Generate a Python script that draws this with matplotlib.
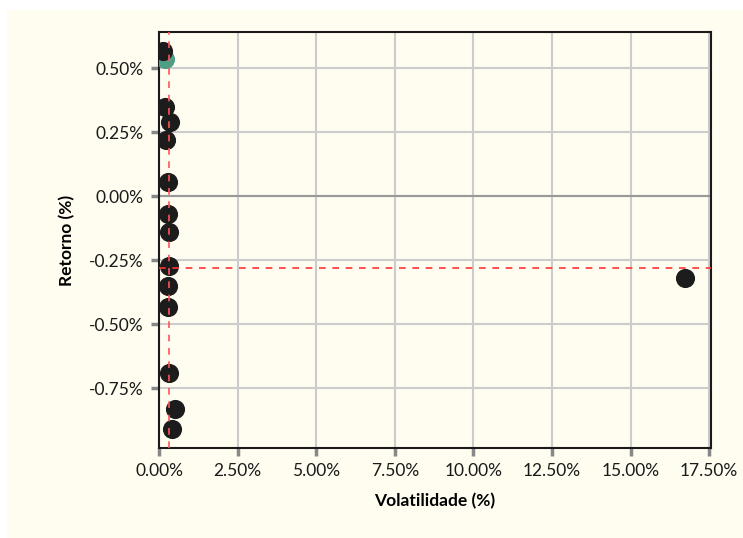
import matplotlib
matplotlib.use("Agg")
import matplotlib.pyplot as plt
from matplotlib.patches import Rectangle
from matplotlib.ticker import FuncFormatter, MultipleLocator

# Data (in percent)
volatility = [0.13, 0.19, 0.35, 0.22, 0.29, 0.29, 0.32, 0.32, 0.30, 0.30, 0.33, 0.50, 0.40, 16.74]
returns = [0.566, 0.348, 0.289, 0.219, 0.055, -0.070, -0.140, -0.273, -0.352, -0.434, -0.691, -0.832, -0.910, -0.320]
highlight_vol = [0.19]
highlight_ret = [0.535]
ref_vol = 0.33
ref_ret = -0.282

CREAM = "#FFFDF0"
plt.rcParams['font.family'] = ['Lato', 'DejaVu Sans']

fig = plt.figure(figsize=(7.43, 5.38), dpi=100, facecolor="white")
fig.patches.append(Rectangle((7/743, 0), 1, 528/538, transform=fig.transFigure,
                             facecolor=CREAM, edgecolor="none", zorder=-10))
ax = fig.add_axes([159/743, (538-448)/538, (711-159)/743, (448-32)/538])
ax.set_facecolor(CREAM)

ax.set_xlim(0, 17.56)
ax.set_ylim(-0.984, 0.641)
ax.xaxis.set_major_locator(MultipleLocator(2.5))
ax.yaxis.set_major_locator(MultipleLocator(0.25))
ax.xaxis.set_major_formatter(FuncFormatter(lambda v, p: f"{v:.2f}%"))
ax.yaxis.set_major_formatter(FuncFormatter(lambda v, p: f"{v:.2f}%"))

ax.set_axisbelow(True)
ax.grid(True, color="#CCCCCC", linewidth=1.5, zorder=1)
ax.axhline(0, color="#999999", linewidth=1.5, zorder=1)
for s in ax.spines.values():
    s.set_color("#1a1a1a")
    s.set_linewidth(1.5)
ax.tick_params(axis="both", direction="out", length=6, width=2.5, color="#888888",
               labelsize=12.5, labelcolor="#1a1a1a", pad=5)

ax.scatter(highlight_vol, highlight_ret, s=190, color="#4E9E86", zorder=3, linewidths=0)
ax.scatter(volatility, returns, s=190, color="#1C1C1C", zorder=4, linewidths=0)
ax.axvline(ref_vol, color="#FF5555", linestyle=(0, (4, 4)), linewidth=1.2, zorder=5)
ax.axhline(ref_ret, color="#FF3333", linestyle=(0, (4, 4)), linewidth=1.2, zorder=5)

ax.set_xlabel("Volatilidade (%)", fontsize=12.5, fontweight="bold", labelpad=10)
ax.set_ylabel("Retorno (%)", fontsize=12.5, fontweight="bold", labelpad=10)

fig.savefig("out.png", dpi=100, facecolor=fig.get_facecolor())
